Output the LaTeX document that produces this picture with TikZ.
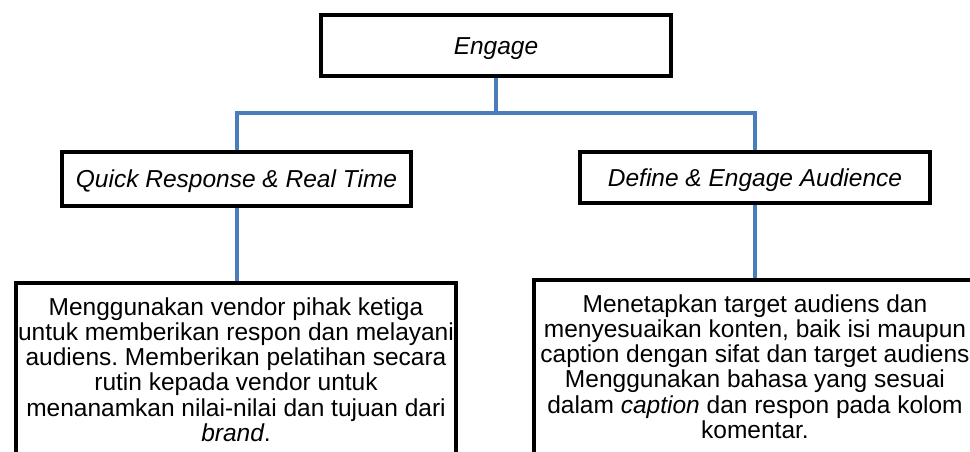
\documentclass[tikz,border=0pt]{standalone}
\usepackage{fontspec}
\setmainfont{Liberation Sans}
\frenchspacing
\usetikzlibrary{backgrounds}
\definecolor{linkblue}{HTML}{4A7EBB}
\tikzset{
  every node/.style={inner sep=0pt, outer sep=0pt},
  headbox/.style={draw=black, line width=4pt, fill=white,
    font=\fontsize{24.5}{25.3}\selectfont\itshape,
    text height=17.5pt, text depth=0pt},
  bodybox/.style={draw=black, line width=4pt, fill=white,
    anchor=north, minimum height=300pt},
  % six lines; the base anchor sits on the last one
  bodytext/.style={align=center, anchor=base,
    font=\fontsize{24.5}{25.3}\selectfont},
  link/.style={draw=linkblue, line width=4pt},
}
\begin{document}
\begin{tikzpicture}[x=1pt, y=-1pt]
\clip (0,0) rectangle (970,452);

% top level
\node[headbox, minimum width=350pt, minimum height=61pt] (engage) at (496,45.5) {Engage};

% second level
\node[headbox, minimum width=349pt, minimum height=54pt] (qr) at (236.5,179) {Quick Response \& Real Time};
\node[headbox, minimum width=350pt, minimum height=51pt] (de) at (755,177.5) {Define \& Engage Audience};

% description boxes (run past the lower edge)
\node[bodybox, minimum width=440pt] (lb) at (236,283) {};
\node[bodytext] (lbtext) at ([yshift=-158.5pt]lb.north) {%
  Menggunakan vendor pihak ketiga\\
  untuk memberikan respon dan melayani\\
  audiens. Memberikan pelatihan secara\\
  rutin kepada vendor untuk\\
  menanamkan nilai-nilai dan tujuan dari\\
  \textit{brand}.};

\node[bodybox, minimum width=442pt] (rb) at (755,280) {};
\node[bodytext] (rbtext) at ([yshift=-158.5pt]rb.north) {%
  Menetapkan target audiens dan\\
  menyesuaikan konten, baik isi maupun\\
  caption dengan sifat dan target audiens\\
  Menggunakan bahasa yang sesuai\\
  dalam \textit{caption} dan respon pada kolom\\
  komentar.};

% connectors
\coordinate (bus) at (496,113);
\begin{pgfonlayer}{background}
  \draw[link] (engage.south) -- (bus);
  \draw[link] (qr.north) |- (bus) -| (de.north);
  \draw[link] (qr.south) -- (qr.south |- lb.north);
  \draw[link] (de.south) -- (de.south |- rb.north);
\end{pgfonlayer}
\end{tikzpicture}
\end{document}
